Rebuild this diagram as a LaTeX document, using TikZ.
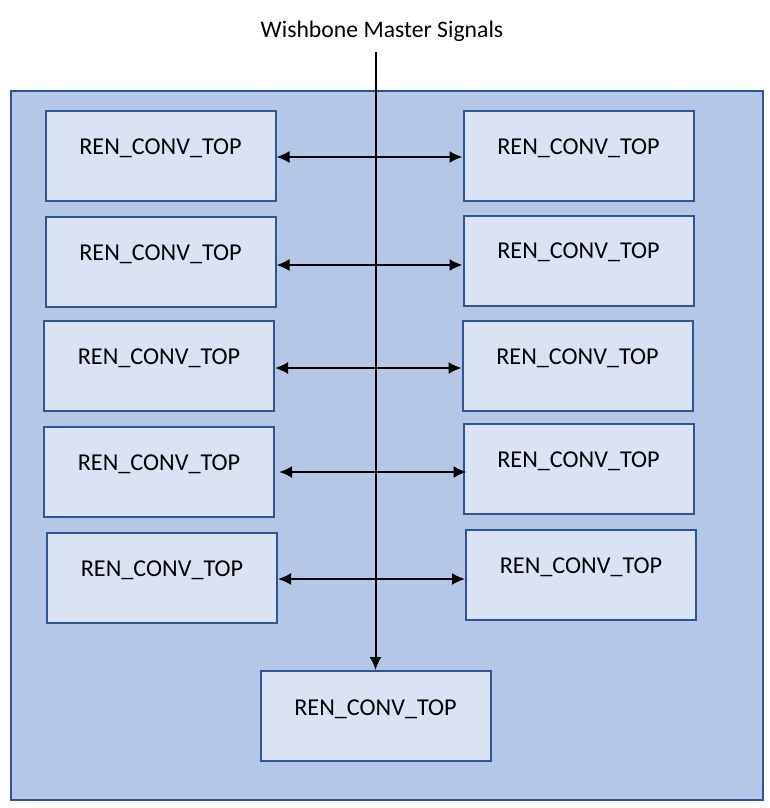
\documentclass[tikz,border=0pt]{standalone}
\usepackage{fontspec}
\setmainfont{Carlito}
\usetikzlibrary{arrows.meta}
\definecolor{outerfill}{HTML}{B4C7E7}
\definecolor{innerfill}{HTML}{DAE3F3}
\definecolor{bordercol}{HTML}{2F5597}
\tikzset{
  box/.style={draw=bordercol, fill=innerfill, line width=2pt, minimum width=230pt, minimum height=90pt, inner sep=0pt, anchor=center},
  lbl/.style={font=\fontsize{24.2}{29}\selectfont},
  conn/.style={line width=2pt, {Latex[length=13pt,width=12pt]}-{Latex[length=13pt,width=12pt]}},
  feed/.style={line width=2pt, -{Latex[length=13pt,width=12pt]}}
}
\begin{document}
\begin{tikzpicture}[x=1pt,y=-1pt]
\useasboundingbox (0,0) rectangle (770,808);
\node[draw=bordercol, fill=outerfill, line width=2pt, minimum width=752pt, minimum height=709pt, inner sep=0pt, anchor=north west] (outer) at (10,90) {};
\node[font=\fontsize{23.7}{28}\selectfont] (title) at (382,31) {Wishbone Master Signals};
\coordinate (top) at (376,52);
% left column
\node[box, label={[lbl,yshift=8pt]center:REN\_CONV\_TOP}] (l1) at (160.5,156) {};
\node[box, label={[lbl,yshift=8pt]center:REN\_CONV\_TOP}] (l2) at (160.5,262) {};
\node[box, label={[lbl,yshift=8pt]center:REN\_CONV\_TOP}] (l3) at (159,366) {};
\node[box, label={[lbl,yshift=8pt]center:REN\_CONV\_TOP}] (l4) at (159,472) {};
\node[box, label={[lbl,yshift=8pt]center:REN\_CONV\_TOP}] (l5) at (162,578) {};
% right column
\node[box, label={[lbl,yshift=8pt]center:REN\_CONV\_TOP}] (r1) at (578.5,156) {};
\node[box, label={[lbl,yshift=8pt]center:REN\_CONV\_TOP}] (r2) at (578.5,260.5) {};
\node[box, label={[lbl,yshift=8pt]center:REN\_CONV\_TOP}] (r3) at (577.5,366) {};
\node[box, label={[lbl,yshift=8pt]center:REN\_CONV\_TOP}] (r4) at (578.5,469) {};
\node[box, label={[lbl,yshift=8pt]center:REN\_CONV\_TOP}] (r5) at (581,575) {};
% bottom
\node[box, label={[lbl,yshift=7pt]center:REN\_CONV\_TOP}] (b) at (375.5,716) {};
% connectors
\draw[feed] (b.north |- top) -- (b.north);
\draw[conn] ([yshift=-1pt]l1.east) -- ([yshift=-1pt]l1.east -| r1.west);
\draw[conn] ([yshift=-3pt]l2.east) -- ([yshift=-3pt]l2.east -| r2.west);
\draw[conn] ([yshift=-2pt]l3.east) -- ([yshift=-2pt]l3.east -| r3.west);
\draw[conn] ([xshift=4pt]l4.east) -- ([xshift=4pt]l4.east -| r4.west);
\draw[conn] ([yshift=-1pt]l5.east) -- ([yshift=-1pt]l5.east -| r5.west);
\end{tikzpicture}
\end{document}
